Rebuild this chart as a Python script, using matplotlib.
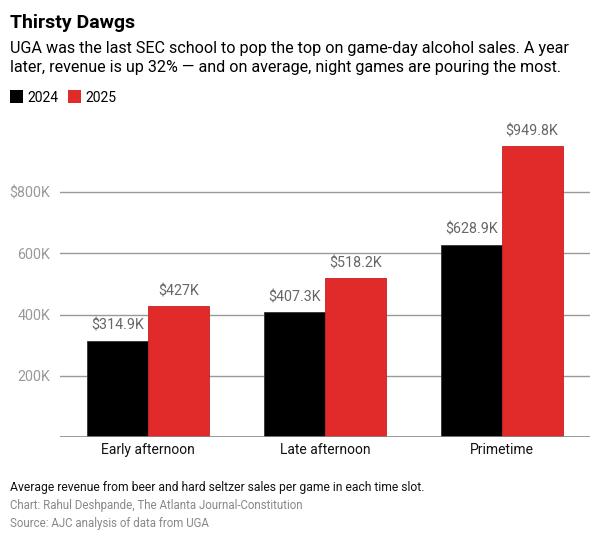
import matplotlib.pyplot as plt
from matplotlib.patches import Rectangle
import numpy as np

plt.rcParams['font.family'] = ['Roboto', 'DejaVu Sans']

# data
categories = ['Early afternoon', 'Late afternoon', 'Primetime']
sales_2024 = [314.9, 407.3, 628.9]   # thousands of dollars
sales_2025 = [427.0, 518.2, 949.8]
value_labels_2024 = ['$314.9K', '$407.3K', '$628.9K']
value_labels_2025 = ['$427K', '$518.2K', '$949.8K']
y_ticks = [200, 400, 600, 800]
y_tick_labels = ['200K', '400K', '600K', '$800K']

black = '#000000'
red = '#e12b2b'
W, H = 600, 542

fig = plt.figure(figsize=(6, 5.42), dpi=100)
ax = fig.add_axes([60 / W, 1 - 437 / H, 530 / W, 306 / H])

x = np.arange(len(categories))
bw = 0.345
ax.bar(x - bw / 2, sales_2024, bw, color=black, edgecolor='#333333', linewidth=0.6, zorder=3)
ax.bar(x + bw / 2, sales_2025, bw, color=red, edgecolor='#c82020', linewidth=0.6, zorder=3)

for i in range(len(categories)):
    ax.annotate(value_labels_2024[i], (x[i] - bw / 2, sales_2024[i]), xytext=(0, 6),
                textcoords='offset points', ha='center', va='bottom', fontsize=10.3, color='#666666')
    ax.annotate(value_labels_2025[i], (x[i] + bw / 2, sales_2025[i]), xytext=(0, 6),
                textcoords='offset points', ha='center', va='bottom', fontsize=10.3, color='#666666')

ax.set_xlim(-0.5, 2.5)
ax.set_ylim(0, 1000)
ax.set_yticks(y_ticks)
ax.set_yticklabels(y_tick_labels)
ax.set_xticks(x)
ax.set_xticklabels(categories)
ax.tick_params(axis='y', length=0, pad=7, labelsize=10.3, labelcolor='#999999')
ax.tick_params(axis='x', length=0, pad=4, labelsize=10, labelcolor='#111111')
for yv in y_ticks:
    ax.axhline(yv, color='#999999', linewidth=1, zorder=1)
ax.axhline(0, color='#888888', linewidth=1.2, zorder=4)
for s in ax.spines.values():
    s.set_visible(False)

# title, subtitle, legend
fig.text(10 / W, 1 - 28 / H, 'Thirsty Dawgs', fontsize=14, fontweight='bold', va='baseline')
fig.text(10 / W, 1 - 53 / H, 'UGA was the last SEC school to pop the top on game-day alcohol sales. A year',
         fontsize=11.6, va='baseline')
fig.text(10 / W, 1 - 72 / H, 'later, revenue is up 32% \u2014 and on average, night games are pouring the most.',
         fontsize=11.6, va='baseline')

fig.patches.append(Rectangle((10 / W, 1 - 103 / H), 13 / W, 13 / H, transform=fig.transFigure,
                             facecolor=black, edgecolor='none'))
fig.text(27 / W, 1 - 102 / H, '2024', fontsize=10, va='baseline')
fig.patches.append(Rectangle((68 / W, 1 - 103 / H), 13 / W, 13 / H, transform=fig.transFigure,
                             facecolor=red, edgecolor='none'))
fig.text(85 / W, 1 - 102 / H, '2025', fontsize=10, va='baseline')

# notes
fig.text(10 / W, 1 - 491 / H, 'Average revenue from beer and hard seltzer sales per game in each time slot.',
         fontsize=8.7, va='baseline', color='#111111')
fig.text(10 / W, 1 - 509 / H, 'Chart: Rahul Deshpande, The Atlanta Journal-Constitution',
         fontsize=8.3, va='baseline', color='#888888')
fig.text(10 / W, 1 - 527 / H, 'Source: AJC analysis of data from UGA',
         fontsize=8.3, va='baseline', color='#888888')

fig.savefig('out.png', dpi=100)
